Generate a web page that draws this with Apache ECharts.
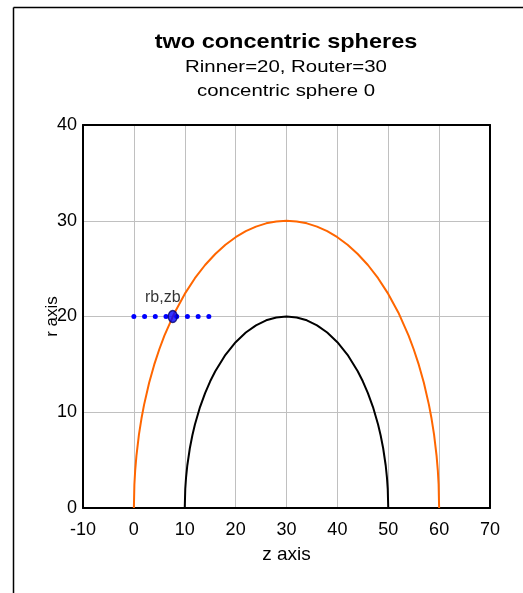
<!DOCTYPE html>
<html><head><meta charset="utf-8">
<script src="https://cdn.jsdelivr.net/npm/echarts@6/dist/echarts.min.js"></script>
<style>html,body{margin:0;padding:0;background:#fff}#c{width:523px;height:593px}</style>
</head><body><div id="c"></div>
<script>
// Outer sphere (Router=30) profile
const outerZ = [0, 0.1, 0.25, 0.5, 1, 1.5, 2, 3, 4, 5, 6, 8, 10, 12, 14, 16, 18, 20, 22, 24, 26, 28, 30, 32, 34, 36, 38, 40, 42, 44, 46, 48, 50, 52, 54, 55, 56, 57, 58, 58.5, 59, 59.5, 59.75, 59.9, 60];
const outerR = [0, 2.45, 3.87, 5.45, 7.68, 9.37, 10.77, 13.08, 14.97, 16.58, 18, 20.4, 22.36, 24, 25.38, 26.53, 27.5, 28.28, 28.91, 29.39, 29.73, 29.93, 30, 29.93, 29.73, 29.39, 28.91, 28.28, 27.5, 26.53, 25.38, 24, 22.36, 20.4, 18, 16.58, 14.97, 13.08, 10.77, 9.37, 7.68, 5.45, 3.87, 2.45, 0];
// Inner sphere (Rinner=20) profile
const innerZ = [10, 10.1, 10.25, 10.5, 11, 11.5, 12, 13, 14, 15, 16, 18, 20, 22, 24, 26, 28, 30, 32, 34, 36, 38, 40, 42, 44, 45, 46, 47, 48, 48.5, 49, 49.5, 49.75, 49.9, 50];
const innerR = [0, 2.0, 3.15, 4.44, 6.24, 7.6, 8.72, 10.54, 12, 13.23, 14.28, 16, 17.32, 18.33, 19.08, 19.6, 19.9, 20, 19.9, 19.6, 19.08, 18.33, 17.32, 16, 14.28, 13.23, 12, 10.54, 8.72, 7.6, 6.24, 4.44, 3.15, 2.0, 0];
// Dotted boundary line and point rb,zb
const bLineZ = [0, 15];
const bLineR = [20, 20];
const pointZ = [7.64];
const pointR = [20];
const pointLabel = 'rb,zb';
const xTicks = [-10, 0, 10, 20, 30, 40, 50, 60, 70];
const yTicks = [0, 10, 20, 30, 40];
const titleText = 'two concentric spheres';
const sub1 = 'Rinner=20, Router=30';
const sub2 = 'concentric sphere 0';
const xName = 'z axis';
const yName = 'r axis';

const zip = (a, b) => a.map((v, i) => [v, b[i]]);
const font = 'Liberation Sans, Arial, sans-serif';
const chart = echarts.init(document.getElementById('c'), null, {renderer: 'canvas'});
const xMin = xTicks[0], xMax = xTicks[xTicks.length - 1];
const yMin = yTicks[0], yMax = yTicks[yTicks.length - 1];
const frameAxis = {
  type: 'value', axisLine: {show: true, onZero: false, lineStyle: {color: '#000', width: 2}},
  axisTick: {show: false}, axisLabel: {show: false}, splitLine: {show: false}
};
function titleText2(txt, y, size, weight, sx) {
  return {type: 'text', x: 286, y: y, scaleX: sx, z: 10,
    style: {text: txt, fontFamily: font, fontSize: size, fontWeight: weight, fill: '#000',
      textAlign: 'center', textVerticalAlign: 'middle', verticalAlign: 'middle'}};
}
chart.setOption({
  animation: false,
  backgroundColor: '#fff',
  grid: {left: 83, right: 33, top: 125, bottom: 85, show: false},
  xAxis: [{
    type: 'value', min: xMin, max: xMax, interval: 10,
    name: xName, nameLocation: 'middle', nameGap: 37, nameMoveOverlap: false,
    nameTextStyle: {fontFamily: font, fontSize: 19, color: '#000'},
    axisLine: {show: true, onZero: false, lineStyle: {color: '#000', width: 2}},
    axisTick: {show: false},
    axisLabel: {fontFamily: font, fontSize: 18, color: '#000', margin: 13},
    splitLine: {show: true, lineStyle: {color: '#c0c0c0', width: 1}}
  }, Object.assign({position: 'top', min: xMin, max: xMax}, frameAxis)],
  yAxis: [{
    type: 'value', min: yMin, max: yMax, interval: 10,
    name: yName, nameLocation: 'middle', nameGap: 22, nameMoveOverlap: false,
    nameTextStyle: {fontFamily: font, fontSize: 17, color: '#000'},
    axisLine: {show: true, onZero: false, lineStyle: {color: '#000', width: 2}},
    axisTick: {show: false},
    axisLabel: {fontFamily: font, fontSize: 18, color: '#000', margin: 6},
    splitLine: {show: true, lineStyle: {color: '#c0c0c0', width: 1}}
  }, Object.assign({position: 'right', min: yMin, max: yMax}, frameAxis)],
  series: [
    {type: 'line', data: zip(outerZ, outerR), showSymbol: false, smooth: false, lineStyle: {color: '#ff6600', width: 2}, z: 3},
    {type: 'line', data: zip(innerZ, innerR), showSymbol: false, smooth: false, lineStyle: {color: '#000', width: 2}, z: 3},
    {type: 'line', data: zip(bLineZ, bLineR), showSymbol: false,
     lineStyle: {color: '#0000ff', width: 5, type: [0.01, 10.7], cap: 'round'}, z: 4},
    {type: 'scatter', data: zip(pointZ, pointR), symbol: 'circle', symbolSize: [9, 12],
     itemStyle: {color: '#0000ff', borderColor: '#00006a', borderWidth: 1.5},
     label: {show: true, position: 'top', distance: 4, offset: [-10, 0], formatter: pointLabel, fontFamily: font, fontSize: 16, color: '#000'}, z: 5}
  ],
  graphic: [
    {type: 'line', shape: {x1: 13.5, y1: 7.5, x2: 523, y2: 7.5}, style: {stroke: '#000', lineWidth: 1.5}},
    {type: 'line', shape: {x1: 13.5, y1: 7.5, x2: 13.5, y2: 593}, style: {stroke: '#000', lineWidth: 1.5}},
    titleText2(titleText, 42, 21, 'bold', 1.12),
    titleText2(sub1, 67, 17, 'normal', 1.2),
    titleText2(sub2, 91, 17, 'normal', 1.2)
  ]
});
</script></body></html>
